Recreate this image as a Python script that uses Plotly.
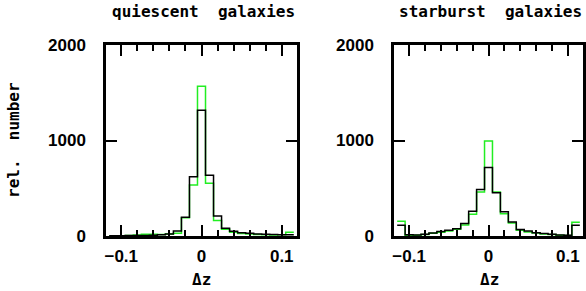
import plotly.graph_objects as go

# bin centres (width 0.01)
bin_centers = [round(-0.11 + 0.01 * i, 3) for i in range(23)]
bin_width = 0.01

quiescent_black = [3, 3, 4, 5, 6, 8, 14, 22, 52, 196, 621, 1316, 635, 209, 80, 49, 35, 28, 22, 18, 15, 12, 14]
quiescent_green = [2, 3, 5, 10, 18, 18, 15, 20, 30, 190, 534, 1567, 552, 161, 70, 40, 25, 20, 15, 12, 10, 12, 38]
starburst_black = [112, 14, 11, 18, 32, 46, 60, 77, 130, 259, 486, 716, 454, 255, 147, 67, 53, 35, 25, 18, 11, 7, 112]
starburst_green = [154, 7, 9, 15, 28, 40, 52, 70, 116, 227, 461, 995, 460, 234, 136, 60, 42, 31, 22, 15, 9, 5, 143]

panel_titles = ["quiescent  galaxies", "starburst  galaxies"]
x_tickvals = [-0.1, 0, 0.1]
x_ticktext = ["\u22120.1", "0", "0.1"]
y_tickvals = [0, 1000, 2000]
y_ticktext = ["0", "1000", "2000"]

W, H = 586, 291


def step(values):
    edges = [c - bin_width / 2 for c in bin_centers] + [bin_centers[-1] + bin_width / 2]
    return edges, list(values) + [values[-1]]


fig = go.Figure()
series = [
    ("x", "y", quiescent_green, "#22ee22"),
    ("x", "y", quiescent_black, "black"),
    ("x2", "y2", starburst_green, "#22ee22"),
    ("x2", "y2", starburst_black, "black"),
]
for xa, ya, vals, col in series:
    ex, ey = step(vals)
    fig.add_trace(go.Scatter(x=ex, y=ey, mode="lines", line=dict(color=col, width=1.5, shape="hv"),
                             xaxis=xa, yaxis=ya, showlegend=False, hoverinfo="skip"))

tickfont = dict(family="Liberation Sans", size=17, color="black", weight="bold")
labfont = dict(family="DejaVu Sans Mono", size=16, color="black", weight="bold")

common_x = dict(range=[-0.119, 0.119], showline=True, linewidth=2.5, linecolor="black", mirror="allticks",
                ticks="inside", ticklen=11, tickwidth=2, tickcolor="black", automargin=False,
                tickvals=x_tickvals, ticktext=x_ticktext, tickfont=tickfont, ticklabelstandoff=3,
                showgrid=False, zeroline=False,
                minor=dict(dtick=0.02, tick0=0, ticks="inside", ticklen=6, tickwidth=1.5, tickcolor="black", showgrid=False))
common_y = dict(range=[0, 2000], showline=True, linewidth=2.5, linecolor="black", mirror="allticks",
                ticks="inside", ticklen=11, tickwidth=2, tickcolor="black", automargin=False,
                tickvals=y_tickvals, ticktext=y_ticktext, tickfont=tickfont, ticklabelstandoff=14,
                showgrid=False, zeroline=False)

yb, yt = 1 - 236 / H, 1 - 45 / H
fig.update_layout(
    width=W, height=H, autosize=False,
    margin=dict(l=0, r=0, t=0, b=0, pad=0),
    plot_bgcolor="white", paper_bgcolor="white",
    xaxis=dict(domain=[106 / W, 297 / W], anchor="y", **common_x),
    yaxis=dict(domain=[yb, yt], anchor="x", **common_y),
    xaxis2=dict(domain=[394 / W, 583 / W], anchor="y2", **common_x),
    yaxis2=dict(domain=[yb, yt], anchor="x2", **common_y),
)

ann = [
    dict(text=panel_titles[0], x=203 / W, y=1 - 12 / H),
    dict(text=panel_titles[1], x=490 / W, y=1 - 12 / H),
    dict(text="\u0394z", x=201 / W, y=1 - 279 / H),
    dict(text="\u0394z", x=489 / W, y=1 - 279 / H),
    dict(text="rel.  number", x=13 / W, y=1 - 140 / H, textangle=-90),
]
for a in ann:
    fig.add_annotation(xref="paper", yref="paper", showarrow=False, xanchor="center", yanchor="middle",
                       font=labfont, **a)

fig.write_html("out.html", config={"displayModeBar": False},
               post_script="document.body.style.margin='0';document.body.style.overflow='hidden';")
